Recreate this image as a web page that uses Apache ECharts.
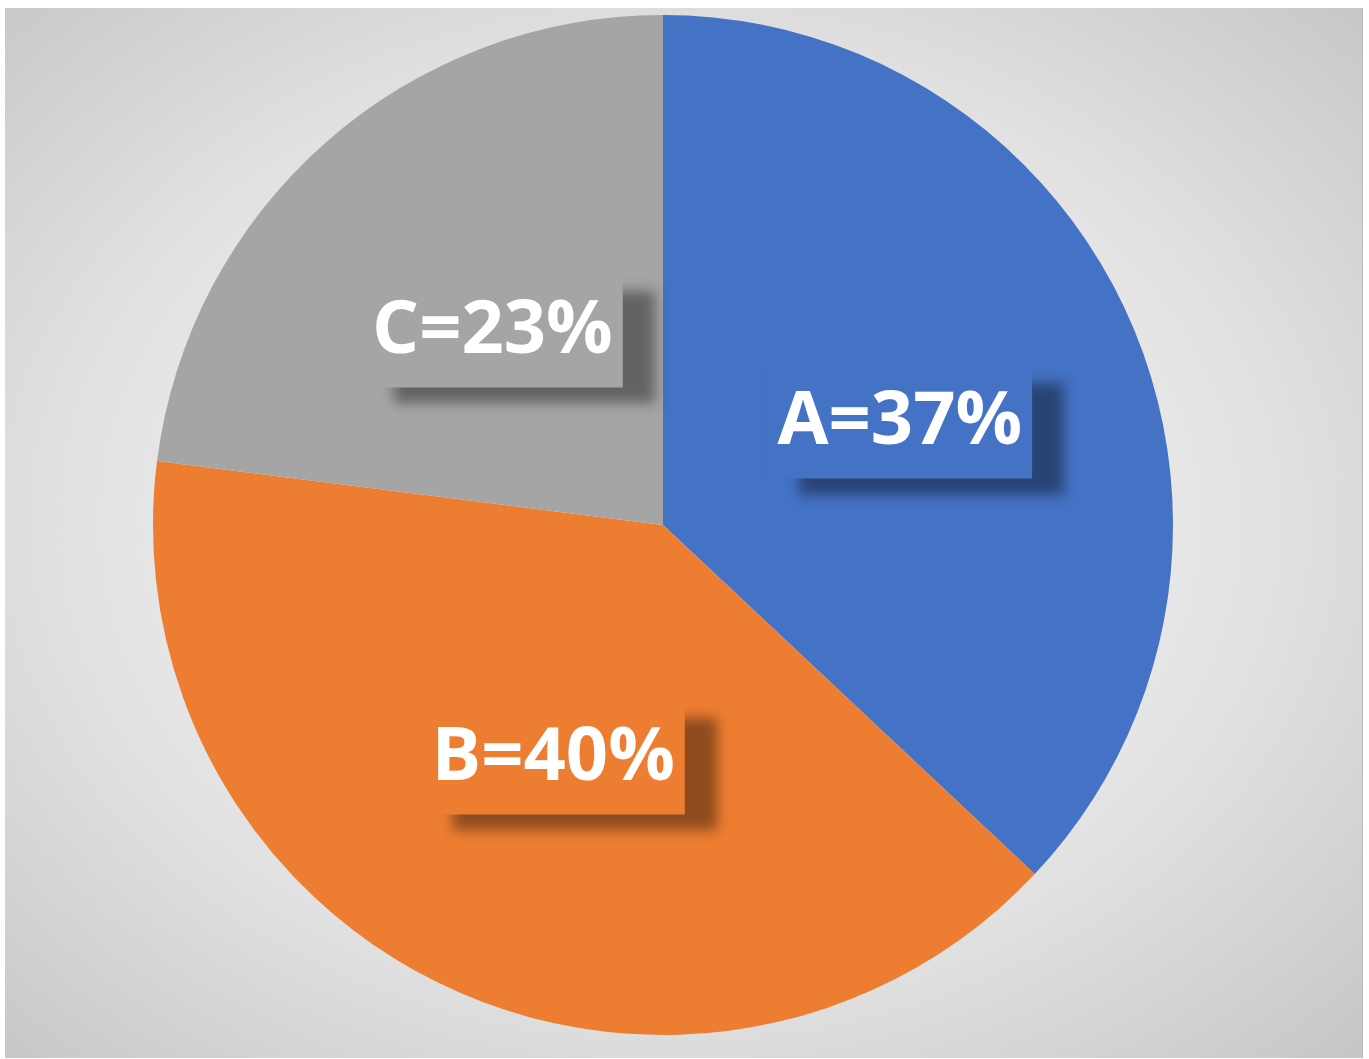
<!DOCTYPE html>
<html>
<head>
<meta charset="utf-8">
<script src="https://cdn.jsdelivr.net/npm/echarts@6/dist/echarts.min.js"></script>
<style>
  html, body { margin: 0; padding: 0; background: #ffffff; width: 1369px; height: 1059px; overflow: hidden; }
  #frame { position: absolute; left: 5px; top: 8px; width: 1357px; height: 1050px;
    background: radial-gradient(ellipse farthest-corner at 49% 49%, #f4f4f4 0%, #ececec 40%, #e1e1e1 62%, #c6c6c6 100%);
    border-right: 1px solid #b9b9b9; }
  #chart { position: absolute; left: 0; top: 0; width: 1369px; height: 1059px; }
</style>
</head>
<body>
<div id="frame"></div>
<div id="chart"></div>
<script>
const categories = ['A', 'B', 'C'];
const values = [37, 40, 23];
const colors = ['#4472C4', '#ED7D31', '#A5A5A5'];

const chart = echarts.init(document.getElementById('chart'), null, { renderer: 'canvas' });
chart.setOption({
  backgroundColor: 'transparent',
  animation: false,
  series: [{
    type: 'pie',
    center: [663, 525],
    radius: [0, 510],
    startAngle: 90,
    clockwise: true,
    percentPrecision: 0,
    itemStyle: { borderWidth: 0 },
    emphasis: { disabled: true },
    labelLine: { show: false },
    label: {
      show: true,
      position: 'inside',
      formatter: '{b}={d}%',
      color: '#ffffff',
      fontFamily: 'Open Sans',
      fontWeight: 'bold',
      fontSize: 74,
      lineHeight: 92,
      padding: [10, 10, 10, 10],
      shadowColor: 'rgba(0,0,0,0.4)',
      shadowBlur: 12,
      shadowOffsetX: 32,
      shadowOffsetY: 16
    },
    data: categories.map((c, i) => ({
      name: c,
      value: values[i],
      itemStyle: { color: colors[i] },
      label: { backgroundColor: colors[i] }
    }))
  }]
});
</script>
</body>
</html>
